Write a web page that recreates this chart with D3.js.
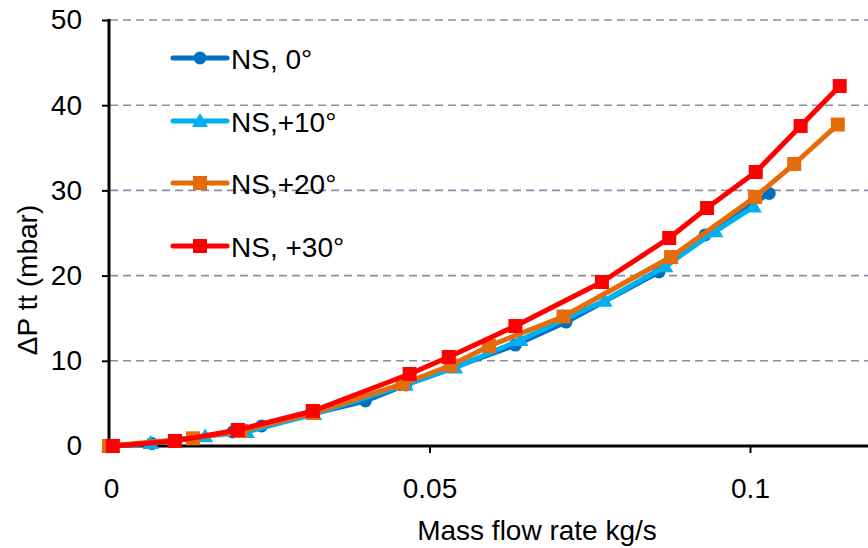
<!DOCTYPE html>
<html><head><meta charset="utf-8">
<script src="https://cdn.jsdelivr.net/npm/d3@7"></script>
<style>body{margin:0;background:#fff}svg{display:block}text{font-family:Arial,"Liberation Sans",sans-serif}</style>
</head><body>
<svg id="c" width="868" height="548"></svg>
<script>
// ---- data ----
const ns0_x   = [0, 0.0067, 0.0193, 0.0238, 0.0400, 0.0463, 0.0634, 0.0713, 0.0858, 0.0930, 0.1030];
const ns0_y   = [0, 0.29, 1.64, 2.35, 5.28, 7.16, 11.85, 14.55, 20.42, 24.77, 29.64];
const ns10_x  = [0, 0.0065, 0.0150, 0.0215, 0.0320, 0.0463, 0.0540, 0.0642, 0.0773, 0.0868, 0.0946, 0.1006];
const ns10_y  = [0, 0.35, 1.15, 1.65, 3.75, 7.2, 9.2, 12.45, 17.05, 21.1, 25.2, 28.1];
const ns20_x  = [0, 0.0131, 0.0206, 0.0318, 0.0458, 0.0533, 0.0593, 0.0709, 0.0877, 0.1008, 0.1069, 0.1137];
const ns20_y  = [0, 0.90, 1.76, 3.87, 7.28, 9.45, 11.74, 15.2, 22.18, 29.23, 33.1, 37.73];
const ns30_x  = [0.0006, 0.0103, 0.0201, 0.0318, 0.0469, 0.0530, 0.0634, 0.0769, 0.0874, 0.0933, 0.1009, 0.1079, 0.1140];
const ns30_y  = [0, 0.59, 1.88, 4.11, 8.45, 10.45, 14.08, 19.25, 24.41, 27.93, 32.16, 37.56, 42.25];
const seriesNames = ["NS, 0°", "NS,+10°", "NS,+20°", "NS, +30°"];
const seriesColors = ["#0070C0", "#00B0F0", "#E46C0A", "#FF0000"];
const seriesMarkers = ["circle", "triangle", "square", "square"];
const xTicks = [0, 0.05, 0.1];
const xTickLabels = ["0", "0.05", "0.1"];
const yTicks = [0, 10, 20, 30, 40, 50];
const xTitle = "Mass flow rate kg/s";
const yTitle = "ΔP tt (mbar)";

// ---- chart ----
const svg = d3.select("#c");
const x = d3.scaleLinear().domain([0, 0.11841]).range([109, 868]);
const y = d3.scaleLinear().domain([0, 50]).range([446, 20]);
const FS = 28;

// grid
svg.append("g").selectAll("line").data(yTicks.filter(d => d > 0)).join("line")
  .attr("x1", 110).attr("x2", 868).attr("y1", d => y(d)).attr("y2", d => y(d))
  .attr("stroke", "#8C8CAA").attr("stroke-width", 1.6).attr("stroke-dasharray", "8,5");

// y axis
const ya = svg.append("g").attr("transform", "translate(109,0)")
  .call(d3.axisLeft(y).tickValues(yTicks).tickSize(7).tickPadding(20).tickFormat(d3.format("d")));
ya.select(".domain").attr("stroke", "#000").attr("stroke-width", 3).attr("d", `M0,${y(50)-1}V${y(0)+1.5}`);
ya.selectAll(".tick line").attr("stroke", "#000").attr("stroke-width", 2);
ya.selectAll(".tick text").attr("font-size", FS).attr("fill", "#000").attr("font-family", "Arial, Liberation Sans, sans-serif");

// x axis
const xa = svg.append("g").attr("transform", `translate(0,${y(0)})`)
  .call(d3.axisBottom(x).tickValues(xTicks).tickSize(7).tickPadding(25).tickFormat((d, i) => xTickLabels[i]));
xa.select(".domain").attr("stroke", "#000").attr("stroke-width", 3).attr("d", `M107.5,0H868`);
xa.selectAll(".tick line").attr("stroke", "#000").attr("stroke-width", 2).attr("opacity", (d) => d === 0 ? 0 : 1);
xa.selectAll(".tick text").attr("font-size", FS).attr("fill", "#000").attr("font-family", "Arial, Liberation Sans, sans-serif")
  .attr("dx", (d) => d === 0 ? 2 : 0);

// titles
svg.append("text").attr("x", 537).attr("y", 540).attr("text-anchor", "middle")
  .attr("font-size", FS).text(xTitle);
svg.append("text").attr("transform", `translate(37,280) rotate(-90)`).attr("text-anchor", "middle")
  .attr("font-size", FS).text(yTitle);

// series
const allX = [ns0_x, ns10_x, ns20_x, ns30_x];
const allY = [ns0_y, ns10_y, ns20_y, ns30_y];
const line = d3.line().x(d => x(d[0])).y(d => y(d[1]));
function marker(g, type, color, cx, cy) {
  if (type === "circle") g.append("circle").attr("cx", cx).attr("cy", cy).attr("r", 6.5).attr("fill", color);
  else if (type === "square") g.append("rect").attr("x", cx - 7).attr("y", cy - 7).attr("width", 14).attr("height", 14).attr("fill", color);
  else g.append("path").attr("d", `M${cx},${cy-8}L${cx+8},${cy+6}L${cx-8},${cy+6}Z`).attr("fill", color);
}
allX.forEach((xs, i) => {
  const pts = xs.map((v, j) => [v, allY[i][j]]);
  const g = svg.append("g");
  g.append("path").attr("d", line(pts)).attr("fill", "none").attr("stroke", seriesColors[i])
    .attr("stroke-width", 5).attr("stroke-linejoin", "round");
  pts.forEach(p => marker(g, seriesMarkers[i], seriesColors[i], x(p[0]), y(p[1])));
});

// legend
const legY = [58, 121, 183, 246];
seriesNames.forEach((n, i) => {
  const g = svg.append("g");
  g.append("line").attr("x1", 173).attr("x2", 227).attr("y1", legY[i]).attr("y2", legY[i])
    .attr("stroke", seriesColors[i]).attr("stroke-width", 5).attr("stroke-linecap", "round");
  marker(g, seriesMarkers[i], seriesColors[i], 200, legY[i]);
  g.append("text").attr("x", 231).attr("y", legY[i] + 10.5).attr("font-size", FS).text(n);
});
</script>
</body></html>
